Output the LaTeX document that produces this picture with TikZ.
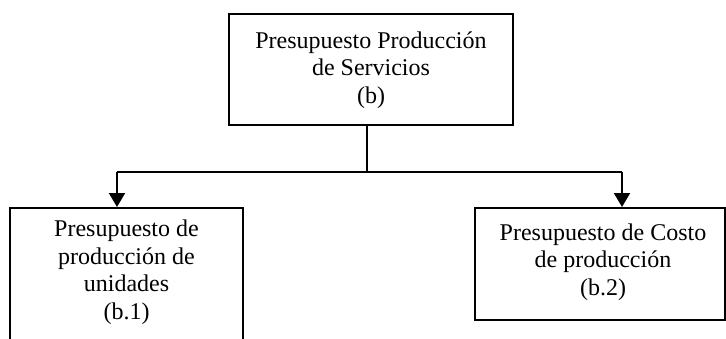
\documentclass[tikz,border=0pt]{standalone}
\usepackage{fontspec}
\setmainfont{Liberation Serif}
\usetikzlibrary{arrows.meta}
\tikzset{
  boxstyle/.style={draw=black, line width=2pt, rectangle, inner sep=0pt},
  textstyle/.style={align=center, font=\fontsize{24}{27.5}\selectfont, inner sep=0pt},
  conn/.style={draw=black, line width=2pt},
  arrowconn/.style={conn, -{Triangle[width=16pt,length=14pt]}}
}
\begin{document}
\begin{tikzpicture}[x=1pt,y=1pt]
\useasboundingbox (0,0) rectangle (726,338);
\clip (0,0) rectangle (726,338);
% top box
\node[boxstyle, minimum width=284pt, minimum height=111pt] (top) at (371,268.5) {};
\node[textstyle] (toptext) at (371,268) {Presupuesto Producción\\de Servicios\\(b)};
% left box (bottom runs past the picture's edge)
\node[boxstyle, minimum width=233pt, minimum height=140pt, anchor=north] (lbox) at (126.5,131) {};
\node[textstyle] (ltext) at (126.5,66) {Presupuesto de\\producción de\\unidades\\(b.1)};
% right box
\node[boxstyle, minimum width=250pt, minimum height=112pt] (rbox) at (600,74) {};
\node[textstyle] (rtext) at (603,76) {Presupuesto de Costo\\de producción\\(b.2)};
% connectors
\coordinate (j) at (367,166);
\coordinate (la) at (117,166);
\coordinate (ra) at (622,166);
\draw[conn] (top.south -| j) -- (j);
\draw[conn] (la) -- (ra);
\draw[arrowconn] (la) -- (lbox.north -| la);
\draw[arrowconn] (ra) -- (rbox.north -| ra);
\end{tikzpicture}
\end{document}
